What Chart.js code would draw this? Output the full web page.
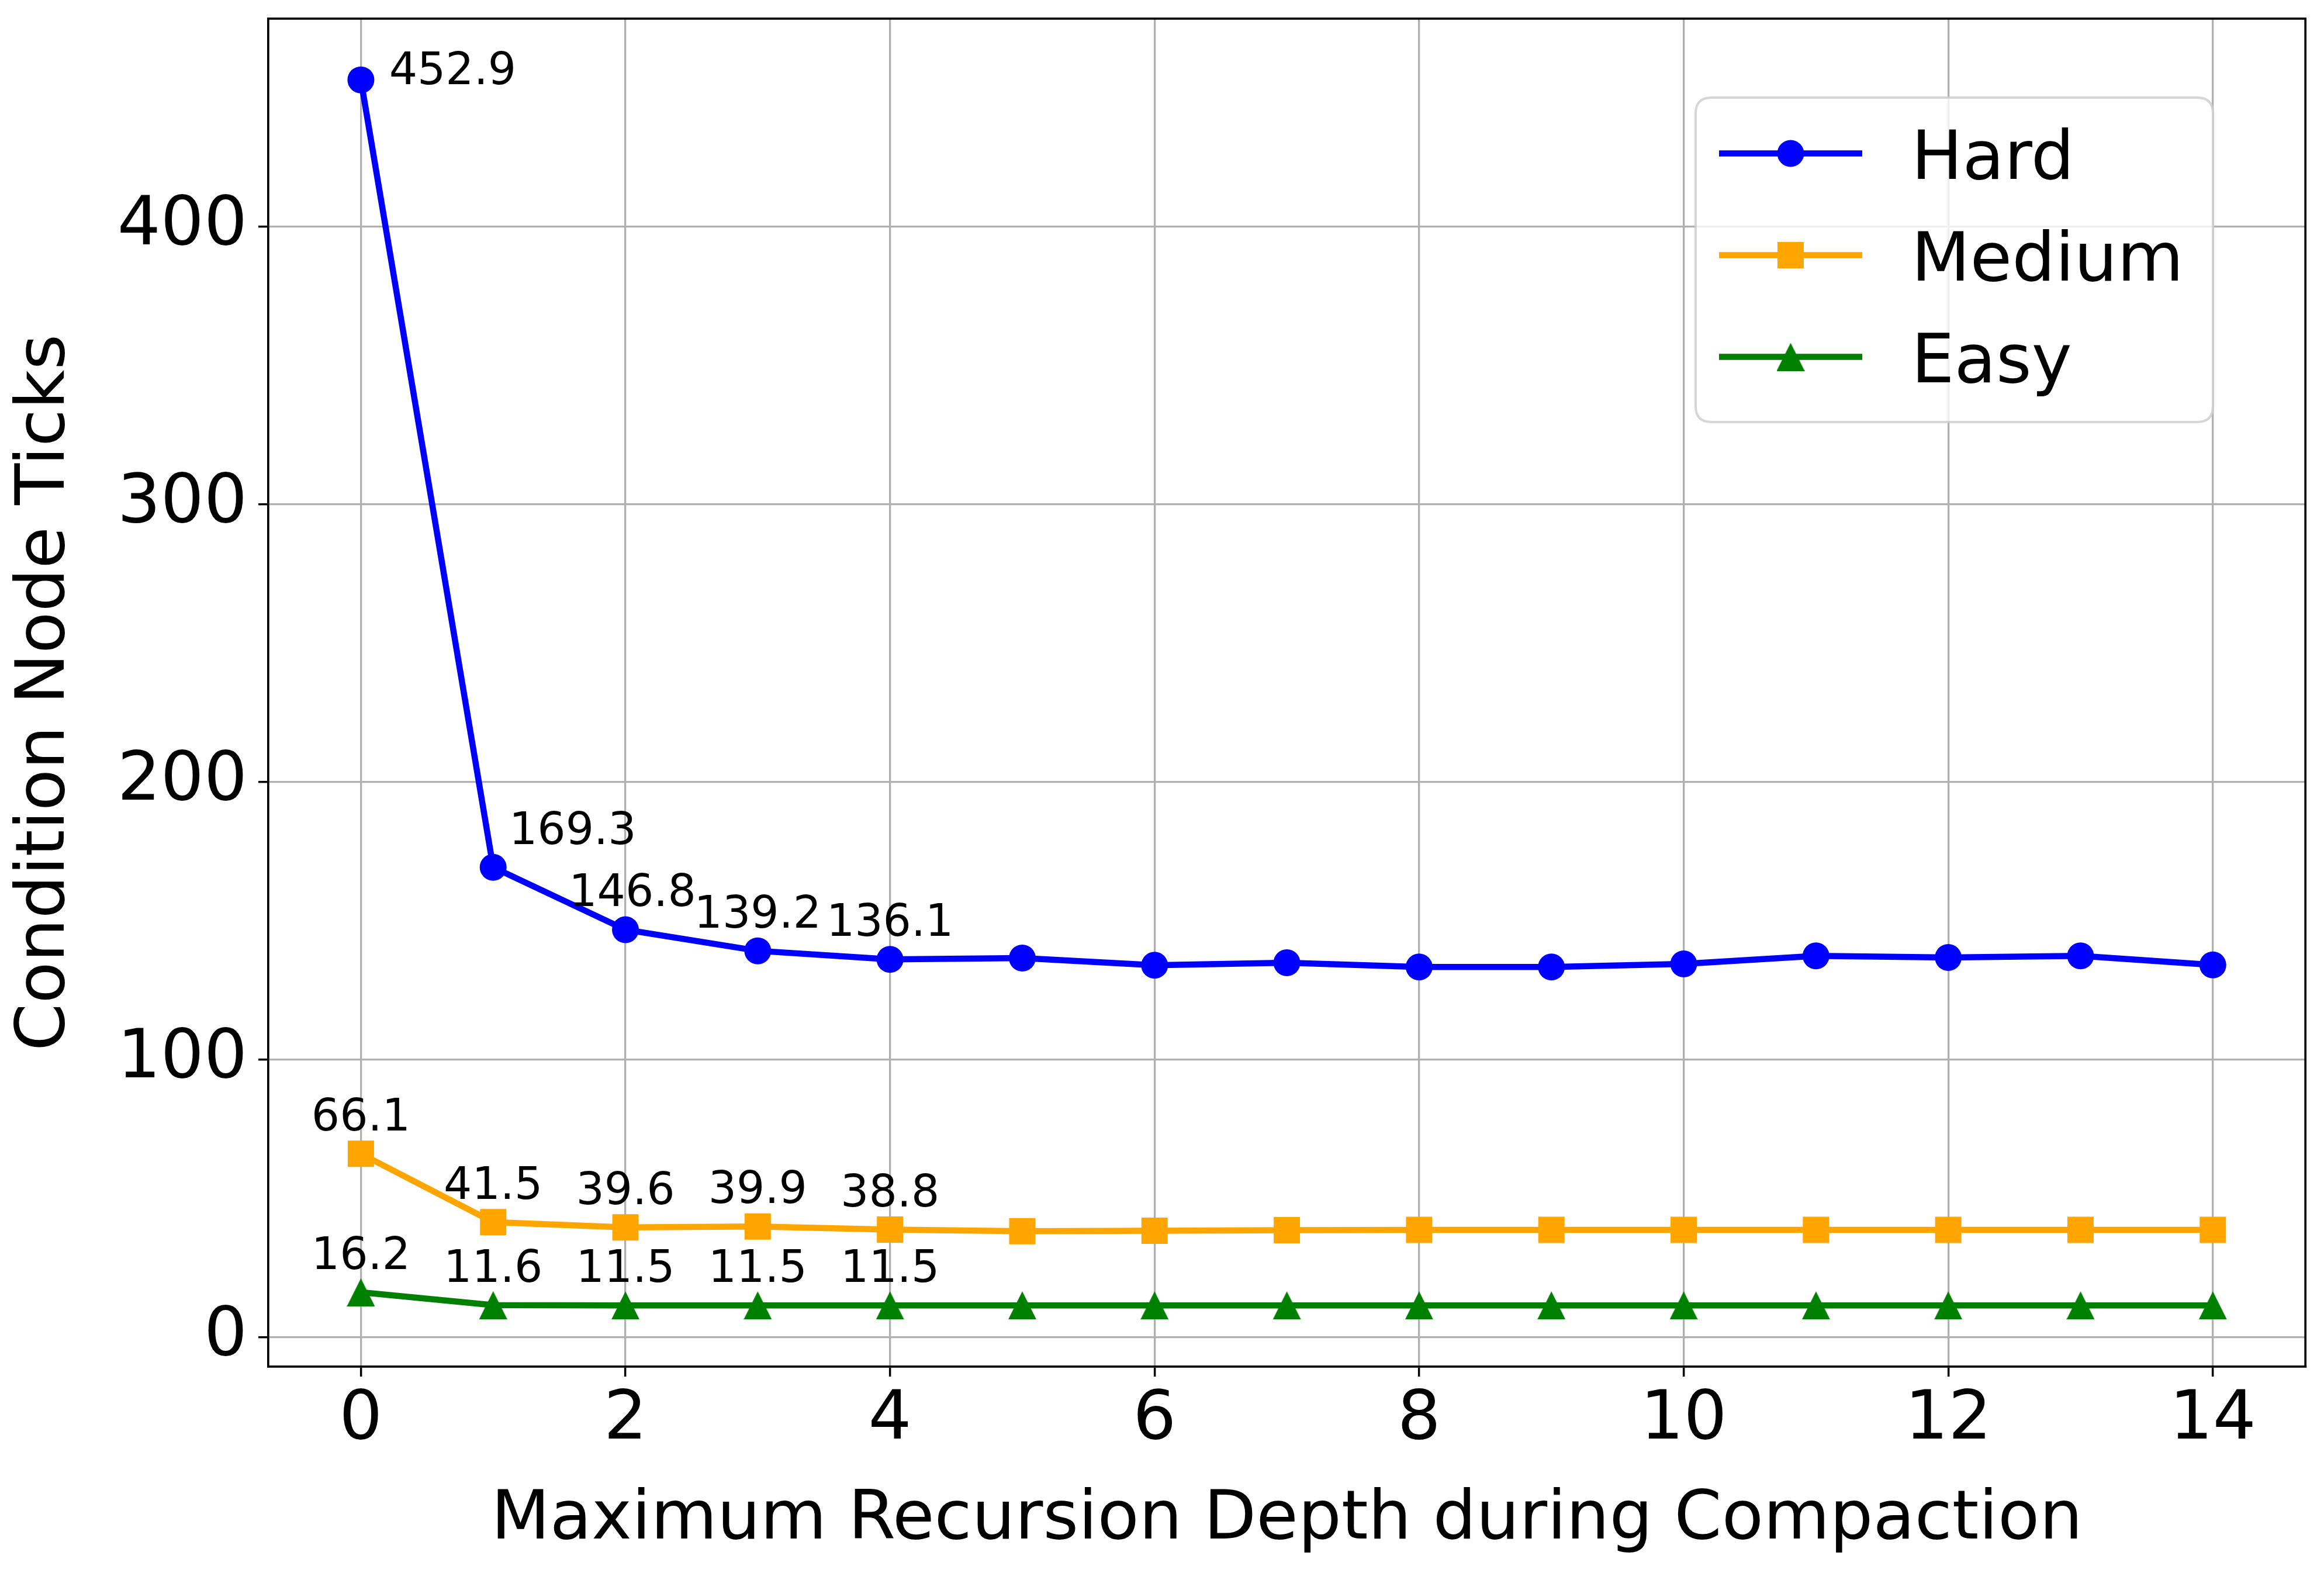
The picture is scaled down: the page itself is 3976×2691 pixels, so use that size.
<!DOCTYPE html>
<html>
<head>
<meta charset="utf-8">
<script src="https://cdn.jsdelivr.net/npm/chart.js@4.4.1/dist/chart.umd.min.js"></script>
<style>
  html, body { margin: 0; padding: 0; background: #ffffff; }
  #wrap { width: 3976px; height: 2691px; }
  canvas { display: block; }
</style>
</head>
<body>
<div id="wrap"><canvas id="c" width="3976" height="2691"></canvas></div>
<script>
// ---------------- data ----------------
const depths = [0, 1, 2, 3, 4, 5, 6, 7, 8, 9, 10, 11, 12, 13, 14];
const hardTicks   = [452.9, 169.3, 146.8, 139.2, 136.1, 136.6, 134.0, 134.9, 133.4, 133.4, 134.5, 137.4, 136.8, 137.4, 134.1];
const mediumTicks = [66.1, 41.5, 39.6, 39.9, 38.8, 38.2, 38.4, 38.6, 38.7, 38.7, 38.7, 38.7, 38.7, 38.7, 38.7];
const easyTicks   = [16.2, 11.6, 11.5, 11.5, 11.5, 11.5, 11.5, 11.5, 11.5, 11.5, 11.5, 11.5, 11.5, 11.5, 11.5];
const seriesNames = ['Hard', 'Medium', 'Easy'];
const labeledPoints = 5;            // value labels shown on the first depths
const xTickValues = [0, 2, 4, 6, 8, 10, 12, 14];
const yTickValues = [0, 100, 200, 300, 400];
const xTitle = 'Maximum Recursion Depth during Compaction';
const yTitle = 'Condition Node Ticks';

// ---------------- styles ----------------
const FONT = "'DejaVu Sans', 'Liberation Sans', sans-serif";
const BIG = 116.5;
const colors = ['#0000ff', '#ffa500', '#008000'];

function triangleMarker(size, color) {
  const cv = document.createElement('canvas');
  cv.width = size; cv.height = size;
  const g = cv.getContext('2d');
  g.fillStyle = color;
  g.beginPath();
  g.moveTo(size / 2, 0);
  g.lineTo(size, size);
  g.lineTo(0, size);
  g.closePath();
  g.fill();
  return cv;
}
const triImg = triangleMarker(48, colors[2]);

const markerStyles = [
  { pointStyle: 'circle', pointRadius: 23 },
  { pointStyle: 'rect', pointRadius: 31.8 },
  { pointStyle: triImg, pointRadius: 24 }
];

const seriesValues = [hardTicks, mediumTicks, easyTicks];
const datasets = seriesValues.map((vals, i) => ({
  label: seriesNames[i],
  data: depths.map((d, j) => ({ x: d, y: vals[j] })),
  borderColor: colors[i],
  backgroundColor: colors[i],
  pointBackgroundColor: colors[i],
  pointBorderWidth: 0,
  pointStyle: markerStyles[i].pointStyle,
  pointRadius: markerStyles[i].pointRadius,
  borderWidth: 10.5,
  tension: 0,
  fill: false
}));

// value labels plugin
const valueLabels = {
  id: 'valueLabels',
  afterDatasetsDraw(chart, args, opts) {
    const ctx = chart.ctx;
    ctx.save();
    ctx.font = '76px ' + FONT;
    ctx.fillStyle = '#000000';
    ctx.textAlign = 'center';
    ctx.textBaseline = 'alphabetic';
    chart.data.datasets.forEach((ds, i) => {
      const meta = chart.getDatasetMeta(i);
      const special = opts.offsets[ds.label] || [];
      for (let j = 0; j < labeledPoints; j++) {
        const el = meta.data[j];
        const off = special[j] || opts.defaultOffset;
        ctx.fillText(ds.data[j].y.toFixed(1), el.x + off[0], el.y + off[1]);
      }
    });
    ctx.restore();
  }
};

// frame (top/right spines) + legend plugin
const frameAndLegend = {
  id: 'frameAndLegend',
  afterDraw(chart, args, opts) {
    const ctx = chart.ctx;
    const a = chart.chartArea;
    ctx.save();
    ctx.strokeStyle = '#000000';
    ctx.lineWidth = 3.7;
    ctx.beginPath();
    ctx.moveTo(a.left, a.top);
    ctx.lineTo(a.right, a.top);
    ctx.lineTo(a.right, a.bottom);
    ctx.stroke();

    // legend box
    const L = opts.box;
    const r = 27;
    ctx.beginPath();
    ctx.moveTo(L.x + r, L.y);
    ctx.lineTo(L.x + L.w - r, L.y);
    ctx.quadraticCurveTo(L.x + L.w, L.y, L.x + L.w, L.y + r);
    ctx.lineTo(L.x + L.w, L.y + L.h - r);
    ctx.quadraticCurveTo(L.x + L.w, L.y + L.h, L.x + L.w - r, L.y + L.h);
    ctx.lineTo(L.x + r, L.y + L.h);
    ctx.quadraticCurveTo(L.x, L.y + L.h, L.x, L.y + L.h - r);
    ctx.lineTo(L.x, L.y + r);
    ctx.quadraticCurveTo(L.x, L.y, L.x + r, L.y);
    ctx.closePath();
    ctx.fillStyle = 'rgba(255,255,255,0.8)';
    ctx.fill();
    ctx.strokeStyle = 'rgba(204,204,204,0.8)';
    ctx.lineWidth = 4;
    ctx.stroke();

    chart.data.datasets.forEach((ds, i) => {
      const cy = opts.rowY0 + i * opts.rowStep;
      ctx.strokeStyle = ds.borderColor;
      ctx.lineWidth = 10.5;
      ctx.beginPath();
      ctx.moveTo(opts.lineX0, cy);
      ctx.lineTo(opts.lineX1, cy);
      ctx.stroke();
      const mx = (opts.lineX0 + opts.lineX1) / 2;
      ctx.fillStyle = ds.borderColor;
      if (typeof ds.pointStyle === 'string') {
        ctx.beginPath();
        if (ds.pointStyle === 'circle') {
          ctx.arc(mx, cy, ds.pointRadius, 0, Math.PI * 2);
        } else {
          const s = ds.pointRadius * Math.SQRT1_2;
          ctx.rect(mx - s, cy - s, 2 * s, 2 * s);
        }
        ctx.fill();
      } else {
        const img = ds.pointStyle;
        ctx.drawImage(img, mx - img.width / 2, cy - img.height / 2);
      }
      ctx.fillStyle = '#000000';
      ctx.font = BIG + 'px ' + FONT;
      ctx.textAlign = 'left';
      ctx.textBaseline = 'alphabetic';
      ctx.fillText(ds.label, opts.textX, cy + 43);
    });
    ctx.restore();
  }
};

function noPad(scale) {
  scale.paddingTop = 0;
  scale.paddingBottom = 0;
  scale.paddingLeft = 0;
  scale.paddingRight = 0;
}

new Chart(document.getElementById('c'), {
  type: 'line',
  data: { datasets },
  plugins: [valueLabels, frameAndLegend],
  options: {
    responsive: false,
    animation: false,
    devicePixelRatio: 1,
    layout: { padding: { left: 0, top: 30, right: 30, bottom: 0 } },
    plugins: {
      legend: { display: false },
      tooltip: { enabled: false },
      valueLabels: {
        defaultOffset: [0, -40],
        offsets: { Hard: [[157, 7], [136, -40], [12, -41]] }
      },
      frameAndLegend: {
        box: { x: 2901, y: 167, w: 885, h: 555 },
        lineX0: 2941, lineX1: 3186,
        rowY0: 262.5, rowStep: 174,
        textX: 3270
      }
    },
    scales: {
      x: {
        type: 'linear',
        min: -0.7,
        max: 14.7,
        afterFit(scale) { scale.height = 353; noPad(scale); },
        afterBuildTicks(scale) { scale.ticks = xTickValues.map(v => ({ value: v })); },
        ticks: {
          font: { family: FONT, size: BIG, lineHeight: 1.0 },
          color: '#000000',
          padding: 17,
          maxRotation: 0,
          autoSkip: false
        },
        grid: {
          color: '#b0b0b0',
          lineWidth: 3.3,
          tickColor: '#000000',
          tickLength: 17,
          tickWidth: 3.5
        },
        border: { display: true, color: '#000000', width: 3.7 },
        title: {
          display: true,
          text: xTitle,
          color: '#000000',
          font: { family: FONT, size: BIG, lineHeight: 1.2 },
          padding: { top: 0, bottom: 19 }
        }
      },
      y: {
        type: 'linear',
        min: -10.57,
        max: 474.97,
        afterFit(scale) { scale.width = 459; noPad(scale); },
        afterBuildTicks(scale) { scale.ticks = yTickValues.map(v => ({ value: v })); },
        ticks: {
          font: { family: FONT, size: BIG, lineHeight: 1.2 },
          color: '#000000',
          padding: 19
        },
        grid: {
          color: '#b0b0b0',
          lineWidth: 3.3,
          tickColor: '#000000',
          tickLength: 17,
          tickWidth: 3.5
        },
        border: { display: true, color: '#000000', width: 3.7 },
        title: {
          display: true,
          text: yTitle,
          color: '#000000',
          font: { family: FONT, size: BIG, lineHeight: 1.2 },
          padding: { top: 9, bottom: 0 }
        }
      }
    }
  }
});
</script>
</body>
</html>
